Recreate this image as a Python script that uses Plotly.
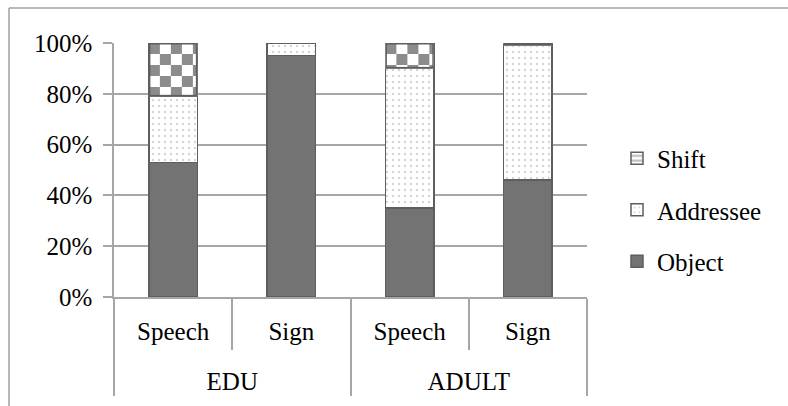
import base64
import plotly.graph_objects as go

# ---- data (percent of responses) ----
groups = ["EDU", "EDU", "ADULT", "ADULT"]
modes = ["Speech", "Sign", "Speech", "Sign"]
object_pct = [53, 95, 35, 46]
addressee_pct = [26, 5, 55, 53]
shift_pct = [21, 0, 10, 1]
y_ticks = [0, 20, 40, 60, 80, 100]

# ---- layout geometry ----
W, H = 788, 406
M = dict(l=114, r=201, t=43, b=109)
plot_w = W - M["l"] - M["r"]
plot_h = H - M["t"] - M["b"]
bar_frac = 0.41

FONT = "Times New Roman, Liberation Serif, DejaVu Serif, serif"
GRID = "#a6a6a6"
EDGE = "#5e5e5e"
FRAME = "#a0a0a0"

# group labels sit on the second row, pushed down one line
group_labels = ["<br>" + g for g in groups]

fig = go.Figure()

fig.add_trace(go.Bar(
    name="Object", x=[group_labels, modes], y=object_pct,
    marker=dict(color="#737373", line=dict(color=EDGE, width=1.5)),
    legendgroup="o", legendrank=3,
))
fig.add_trace(go.Bar(
    name="Addressee", x=[group_labels, modes], y=addressee_pct,
    marker=dict(color="white", line=dict(color=EDGE, width=1.5),
                pattern=dict(shape=".", fgcolor="#aaaaaa", bgcolor="white",
                             size=6, solidity=0.12, fillmode="overlay")),
    legendgroup="a", legendrank=2,
))
fig.add_trace(go.Bar(
    name="Shift", x=[group_labels, modes], y=shift_pct,
    marker=dict(color="white", line=dict(color=EDGE, width=1.5),
                pattern=dict(shape="-", fgcolor="#7a7a7a", bgcolor="white",
                             size=6, solidity=0.45, fillmode="overlay")),
    legendgroup="s", legendrank=1,
))


def checker_uri(px_w, px_h, cell=11):
    """Checkerboard texture with an outline, as an SVG data URI."""
    rects = []
    ny = int(px_h // cell) + 1
    nx = int(px_w // cell) + 1
    for r in range(ny):
        for c in range(nx):
            if (r + c) % 2 == 0:
                rects.append(f'<rect x="{c*cell}" y="{r*cell}" width="{cell}" height="{cell}" fill="#8c8c8c"/>')
    svg = (f'<svg xmlns="http://www.w3.org/2000/svg" width="{px_w:.2f}" height="{px_h:.2f}" '
           f'viewBox="0 0 {px_w:.2f} {px_h:.2f}" preserveAspectRatio="none">'
           f'<rect width="100%" height="100%" fill="white"/>' + "".join(rects) +
           f'<rect x="0.75" y="0.75" width="{max(px_w-1.5,0):.2f}" height="{max(px_h-1.5,0):.2f}" '
           f'fill="none" stroke="{EDGE}" stroke-width="1.5"/></svg>')
    return "data:image/svg+xml;base64," + base64.b64encode(svg.encode()).decode()


# checkerboard fill for the Shift segments, placed on the same axes as the bars
images = []
cat_px = plot_w / len(modes)
for i, v in enumerate(shift_pct):
    if v <= 0:
        continue
    base = object_pct[i] + addressee_pct[i]
    px_w = bar_frac * cat_px
    px_h = max(v / 100 * plot_h, 1.5)
    images.append(dict(
        source=checker_uri(px_w, px_h), xref="x", yref="y",
        x=i - bar_frac / 2, y=base + v, sizex=bar_frac, sizey=v,
        xanchor="left", yanchor="top", sizing="stretch", layer="above",
    ))

# outer frame lines (top and left edges)
fx0 = (9 - M["l"]) / plot_w
fx1 = (W - M["l"]) / plot_w
fy_top = (H - M["b"] - 8) / plot_h
fy_bot = -M["b"] / plot_h
shapes = [
    dict(type="line", xref="paper", yref="paper", x0=fx0, x1=fx1, y0=fy_top, y1=fy_top,
         line=dict(color=FRAME, width=1.5)),
    dict(type="line", xref="paper", yref="paper", x0=fx0, x1=fx0, y0=fy_top, y1=fy_bot,
         line=dict(color=FRAME, width=1.5)),
]

fig.update_layout(
    width=W, height=H, margin=M,
    barmode="stack", bargap=1 - bar_frac,
    paper_bgcolor="white", plot_bgcolor="white",
    font=dict(family=FONT, size=25, color="black"),
    images=images, shapes=shapes,
    legend=dict(
        x=(617 - M["l"]) / plot_w, xanchor="left",
        y=(H - M["b"] - 210) / plot_h, yanchor="middle",
        traceorder="grouped", tracegroupgap=16,
        font=dict(family=FONT, size=25, color="black"),
        bgcolor="rgba(0,0,0,0)",
    ),
    xaxis=dict(
        showline=True, linecolor=GRID, linewidth=1.5,
        ticks="outside", tickson="boundaries", ticklen=51, tickcolor=GRID, tickwidth=1.5,
        dividercolor=GRID, dividerwidth=1.5, showgrid=False,
        ticklabelstandoff=11,
        tickfont=dict(family=FONT, size=25, color="black"),
    ),
    yaxis=dict(
        range=[0, 100], tickvals=y_ticks, ticktext=[f"{v}%" for v in y_ticks],
        showline=True, linecolor=GRID, linewidth=1.5,
        ticks="outside", ticklen=9, tickcolor=GRID, tickwidth=1.5,
        showgrid=True, gridcolor=GRID, gridwidth=1.5, zeroline=False,
        ticklabelstandoff=6,
        tickfont=dict(family=FONT, size=25, color="black"),
    ),
)

fig.write_html("out.html")
